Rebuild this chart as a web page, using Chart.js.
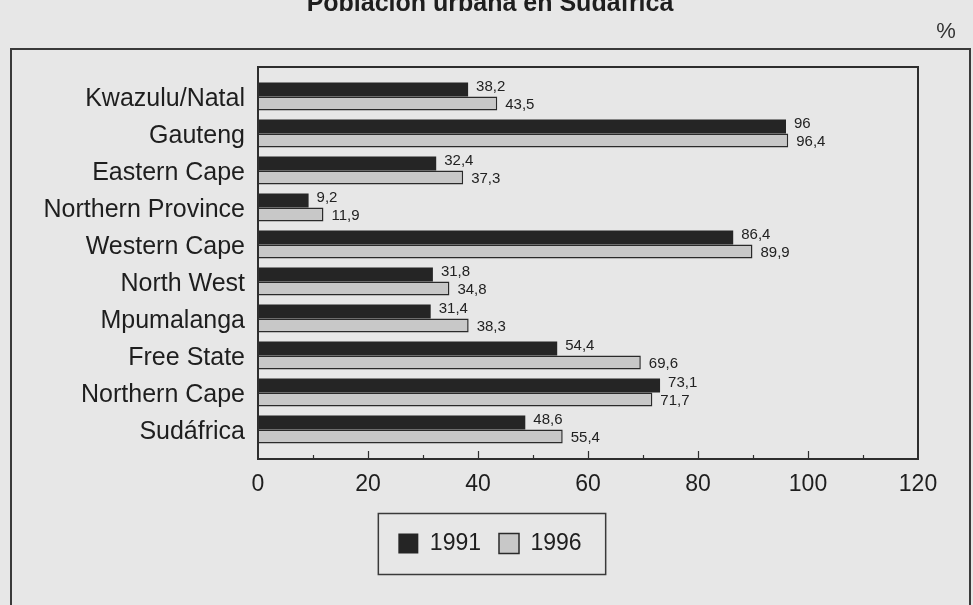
<!DOCTYPE html>
<html>
<head>
<meta charset="utf-8">
<script src="https://cdn.jsdelivr.net/npm/chart.js@4.4.1/dist/chart.umd.min.js"></script>
<style>
  html, body { margin: 0; padding: 0; background: #e7e7e7; }
  #wrap { width: 973px; height: 605px; position: relative; }
</style>
</head>
<body>
<div id="wrap"><canvas id="c" width="973" height="605"></canvas></div>
<script>
// Urban population share by province, South Africa (%)
const provinces = ['Kwazulu/Natal', 'Gauteng', 'Eastern Cape', 'Northern Province', 'Western Cape',
                   'North West', 'Mpumalanga', 'Free State', 'Northern Cape', 'Sudáfrica'];
const urban1991 = [38.2, 96, 32.4, 9.2, 86.4, 31.8, 31.4, 54.4, 73.1, 48.6];
const urban1996 = [43.5, 96.4, 37.3, 11.9, 89.9, 34.8, 38.3, 69.6, 71.7, 55.4];
const seriesNames = ['1991', '1996'];
const xTicks = [0, 20, 40, 60, 80, 100, 120];
const titleText = 'Población urbana en Sudáfrica';
const unitText = '%';

const FONT = '"Liberation Sans", Arial, Helvetica, sans-serif';
const INK = '#1e1e1e';
const BOX_PAD = 11;     // extra room above/below the category bands inside the plot frame
const PLOT_LEFT = 258;  // left edge of the plot frame
const LEGEND_SHIFT = 31; // moves the legend so it sits under the page centre

const fmt = v => String(v).replace('.', ',');

// Frames, title, unit marker, axis tick marks and value labels
const decor = {
  id: 'decor',
  afterLayout(chart) {
    const lg = chart.legend;
    if (lg) {
      lg.left += LEGEND_SHIFT;
      lg.right += LEGEND_SHIFT;
    }
  },
  beforeDraw(chart) {
    const {ctx} = chart;
    ctx.save();
    ctx.fillStyle = '#e7e7e7';
    ctx.fillRect(0, 0, chart.width, chart.height);
    ctx.restore();
  },
  afterDraw(chart) {
    const {ctx, chartArea: a} = chart;
    const xs = chart.scales.x;
    ctx.save();

    // title (runs off the top edge)
    ctx.fillStyle = INK;
    ctx.font = 'bold 25px ' + FONT;
    ctx.textAlign = 'center';
    ctx.textBaseline = 'alphabetic';
    ctx.fillText(titleText, 490, 11);

    // unit
    ctx.font = '22px ' + FONT;
    ctx.fillStyle = '#333';
    ctx.fillText(unitText, 946, 38);

    // outer frame
    ctx.strokeStyle = '#3a3a3a';
    ctx.lineWidth = 2;
    ctx.strokeRect(11, 49, 959, 600);

    // plot frame
    const top = a.top - BOX_PAD, bottom = a.bottom + BOX_PAD;
    ctx.strokeStyle = '#2e2e2e';
    ctx.lineWidth = 2;
    ctx.strokeRect(a.left, top, a.right - a.left, bottom - top);

    // inward tick marks along the bottom edge
    ctx.lineWidth = 1.2;
    for (let v = 10; v < 120; v += 10) {
      const px = Math.round(xs.getPixelForValue(v)) + 0.5;
      const len = v % 20 === 0 ? 8 : 4;
      ctx.beginPath();
      ctx.moveTo(px, bottom);
      ctx.lineTo(px, bottom - len);
      ctx.stroke();
    }

    // value labels beside each bar
    ctx.font = '15px ' + FONT;
    ctx.textAlign = 'left';
    ctx.textBaseline = 'middle';
    ctx.fillStyle = '#222';
    chart.data.datasets.forEach((ds, di) => {
      const meta = chart.getDatasetMeta(di);
      meta.data.forEach((bar, i) => {
        const dy = di === 0 ? -3 : 1;
        ctx.fillText(fmt(ds.data[i]), bar.x + 8, bar.y + dy);
      });
    });

    // legend frame
    const lg = chart.legend;
    if (lg && lg.legendHitBoxes && lg.legendHitBoxes.length) {
      const hb = lg.legendHitBoxes;
      const l = Math.min(...hb.map(h => h.left));
      const r = Math.max(...hb.map(h => h.left + h.width));
      const cy = hb[0].top + hb[0].height / 2;
      ctx.strokeStyle = '#3a3a3a';
      ctx.lineWidth = 1.5;
      ctx.strokeRect(l - 20, cy - 30, (r - l) + 44, 61);
    }
    ctx.restore();
  }
};

new Chart(document.getElementById('c'), {
  type: 'bar',
  data: {
    labels: provinces,
    datasets: [
      {
        label: seriesNames[0],
        data: urban1991,
        backgroundColor: '#252525',
        borderColor: '#252525',
        borderWidth: 0
      },
      {
        label: seriesNames[1],
        data: urban1996,
        backgroundColor: '#c8c8c8',
        borderColor: '#2a2a2a',
        borderWidth: 1.5
      }
    ]
  },
  options: {
    indexAxis: 'y',
    responsive: false,
    animation: false,
    devicePixelRatio: 1,
    categoryPercentage: 0.76,
    barPercentage: 1.0,
    layout: { padding: { top: 78, right: 55, bottom: 40, left: 0 } },
    scales: {
      x: {
        min: 0,
        max: 120,
        afterBuildTicks(scale) { scale.ticks = xTicks.map(v => ({ value: v })); },
        afterFit(scale) { scale.height = 66; },
        grid: { display: false },
        border: { display: false },
        ticks: {
          color: INK,
          padding: 14.5,
          font: { family: FONT, size: 23 }
        }
      },
      y: {
        afterFit(scale) { scale.width = PLOT_LEFT; },
        grid: { display: false },
        border: { display: false },
        ticks: {
          color: INK,
          padding: 5,
          labelOffset: 3,
          font: { family: FONT, size: 25 }
        }
      }
    },
    plugins: {
      legend: {
        position: 'bottom',
        labels: {
          color: INK,
          boxWidth: 20,
          boxHeight: 20,
          padding: 18,
          font: { family: FONT, size: 23 }
        }
      },
      tooltip: { enabled: false }
    }
  },
  plugins: [decor]
});
</script>
</body>
</html>
